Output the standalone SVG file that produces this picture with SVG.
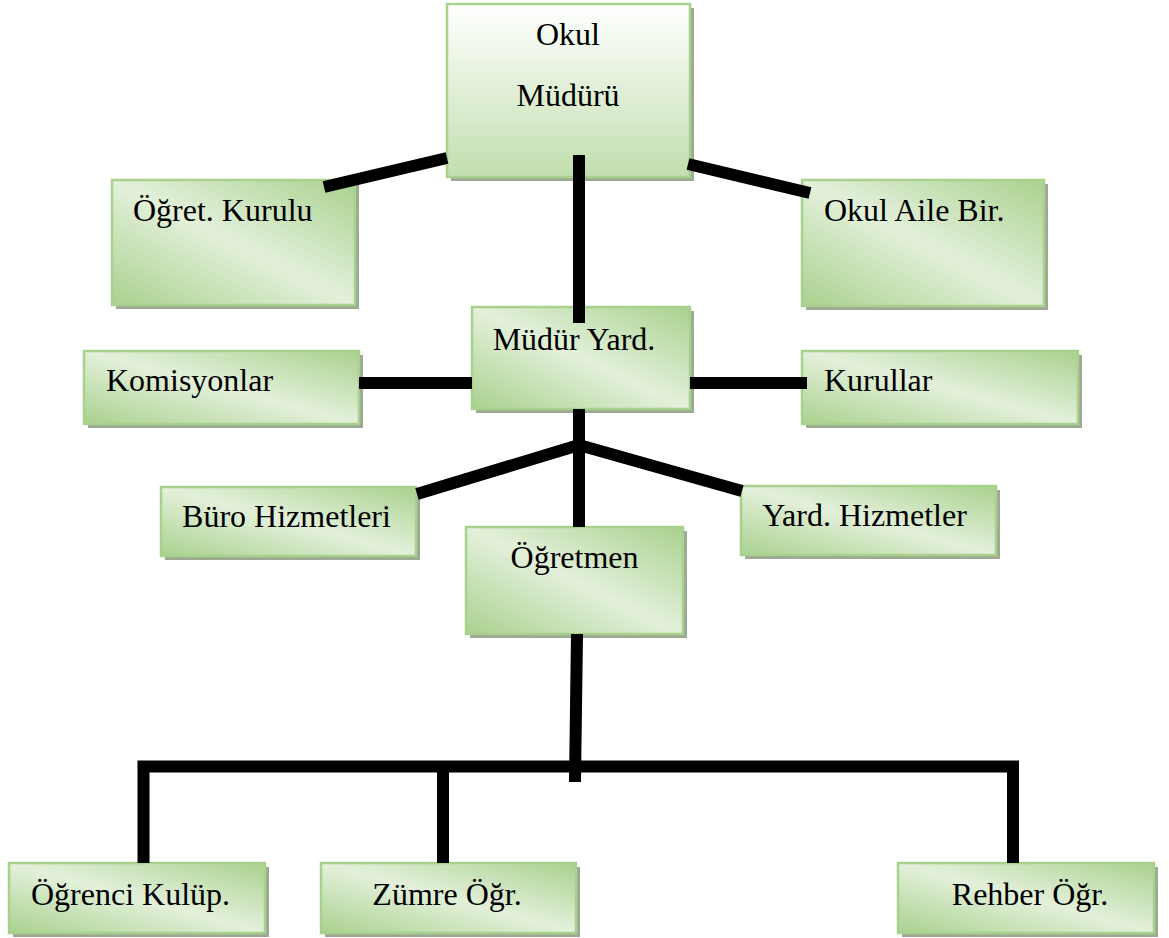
<svg xmlns="http://www.w3.org/2000/svg" width="1169" height="938" viewBox="0 0 1169 938">
<defs>
<linearGradient id="gTop" x1="0" y1="0" x2="0" y2="1">
<stop offset="0" stop-color="#ffffff"/>
<stop offset="1" stop-color="#c2deae"/>
</linearGradient>
<linearGradient id="gDiag" x1="1" y1="0" x2="0" y2="1">
<stop offset="0" stop-color="#a9d18e"/>
<stop offset="0.5" stop-color="#e3f0da"/>
<stop offset="1" stop-color="#a9d18e"/>
</linearGradient>
<style>
.sh{fill:#9da993}
.bx{fill:url(#gDiag);stroke:#a9d18e;stroke-width:2.5}
.bt{fill:url(#gTop);stroke:#a9d18e;stroke-width:2.5}
.t{font-family:"Liberation Serif","Times New Roman",serif;font-size:32px;fill:#000}
.c{text-anchor:middle}
.ln{stroke:#000;stroke-width:12;fill:none;stroke-linecap:butt;stroke-linejoin:miter}
</style>
</defs>
<rect width="1169" height="938" fill="#ffffff"/>

<g id="okul-muduru">
<rect class="sh" x="451" y="8" width="243" height="173"/>
<rect class="bt" x="447" y="4" width="243" height="173"/>
<text class="t c" x="568" y="45">Okul</text>
<text class="t c" x="568" y="106">Müdürü</text>
</g>

<g id="ogret-kurulu">
<rect class="sh" x="116" y="184" width="243" height="125"/>
<rect class="bx" x="112" y="180" width="243" height="125"/>
<text class="t" x="133" y="221">Öğret. Kurulu</text>
</g>

<g id="okul-aile-bir">
<rect class="sh" x="806" y="184" width="242" height="126"/>
<rect class="bx" x="802" y="180" width="242" height="126"/>
<text class="t" x="824" y="221">Okul Aile Bir.</text>
</g>

<g id="mudur-yard">
<rect class="sh" x="476" y="311" width="218" height="102"/>
<rect class="bx" x="472" y="307" width="218" height="102"/>
<text class="t c" x="574" y="350">Müdür Yard.</text>
</g>

<g id="komisyonlar">
<rect class="sh" x="88" y="355" width="275" height="73"/>
<rect class="bx" x="84" y="351" width="275" height="73"/>
<text class="t" x="106" y="391">Komisyonlar</text>
</g>

<g id="kurullar">
<rect class="sh" x="806" y="355" width="276" height="73"/>
<rect class="bx" x="802" y="351" width="276" height="73"/>
<text class="t" x="824" y="391">Kurullar</text>
</g>

<g id="buro-hizmetleri">
<rect class="sh" x="165" y="491" width="255" height="69"/>
<rect class="bx" x="161" y="487" width="255" height="69"/>
<text class="t c" x="286.5" y="527">Büro Hizmetleri</text>
</g>

<g id="yard-hizmetler">
<rect class="sh" x="745" y="490" width="255" height="69"/>
<rect class="bx" x="741" y="486" width="255" height="69"/>
<text class="t c" x="864.5" y="526">Yard. Hizmetler</text>
</g>

<g id="ogretmen">
<rect class="sh" x="470" y="531" width="217" height="107"/>
<rect class="bx" x="466" y="527" width="217" height="107"/>
<text class="t c" x="574.5" y="568">Öğretmen</text>
</g>

<g id="ogrenci-kulup">
<rect class="sh" x="13" y="867" width="256" height="70"/>
<rect class="bx" x="9" y="863" width="256" height="70"/>
<text class="t c" x="130.5" y="905">Öğrenci Kulüp.</text>
</g>

<g id="zumre-ogr">
<rect class="sh" x="325" y="867" width="255" height="70"/>
<rect class="bx" x="321" y="863" width="255" height="70"/>
<text class="t c" x="447" y="905">Zümre Öğr.</text>
</g>

<g id="rehber-ogr">
<rect class="sh" x="902" y="867" width="256" height="70"/>
<rect class="bx" x="898" y="863" width="256" height="70"/>
<text class="t c" x="1030" y="905">Rehber Öğr.</text>
</g>

<g id="connectors">
<line class="ln" x1="579" y1="155" x2="579" y2="323"/>
<line class="ln" x1="324" y1="187" x2="447" y2="158"/>
<line class="ln" x1="688" y1="164" x2="810" y2="193"/>
<line class="ln" x1="359" y1="383" x2="472" y2="383"/>
<line class="ln" x1="690" y1="383" x2="807" y2="383"/>
<line class="ln" x1="579" y1="409" x2="579" y2="527"/>
<line class="ln" x1="579" y1="445" x2="417" y2="494"/>
<line class="ln" x1="579" y1="445" x2="742" y2="491"/>
<line class="ln" x1="577" y1="634" x2="575" y2="782"/>
<path class="ln" d="M143.5,863 V766.5 H1013 V863"/>
<line class="ln" x1="443" y1="766" x2="443" y2="863"/>
</g>
</svg>
